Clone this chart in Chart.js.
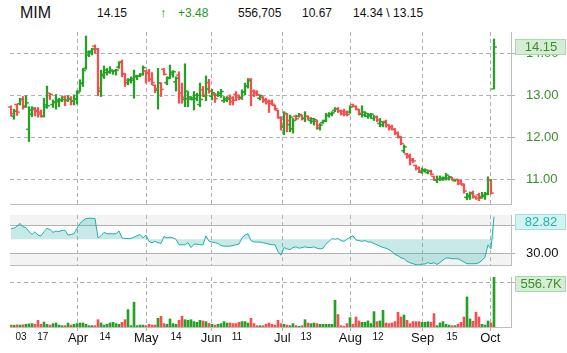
<!DOCTYPE html>
<html>
<head>
<meta charset="utf-8">
<script src="https://cdn.jsdelivr.net/npm/chart.js@4.4.1/dist/chart.umd.min.js"></script>
<style>
  html, body { margin: 0; padding: 0; background: #fff; }
  body { width: 567px; height: 353px; position: relative; overflow: hidden;
         font-family: 'Liberation Sans', Arial, sans-serif; color: #111; }
  .h { position: absolute; top: 6px; font-size: 12px; line-height: 14px; white-space: nowrap; }
  .up { color: #1c9a1c; }
  canvas { position: absolute; left: 0; }
</style>
</head>
<body>
<div class="h" style="left:20px;top:4px;font-size:16px;line-height:18px">MIM</div>
<div class="h" style="left:97px">14.15</div>
<div class="h up" style="left:160px;font-weight:bold;font-size:13px">↑</div>
<div class="h up" style="left:178px">+3.48</div>
<div class="h" style="left:238px">556,705</div>
<div class="h" style="left:302px">10.67</div>
<div class="h" style="left:353px">14.34 \ 13.15</div>

<canvas id="price" width="567" height="176" style="top:30px"></canvas>
<canvas id="rsi" width="567" height="54" style="top:213px"></canvas>
<canvas id="vol" width="567" height="78" style="top:275px"></canvas>

<script>
// daily bars, Mar -> Oct 2
const opens = [
  12.72,12.50,12.78,12.80,12.90,12.74,12.19,12.55,12.66,12.64,
  12.60,12.50,12.72,13.05,12.78,12.84,12.85,12.88,12.96,12.88,
  12.92,12.86,12.92,13.10,13.28,13.64,13.96,14.03,14.17,14.10,
  13.10,13.46,13.54,13.55,13.58,13.58,13.67,13.80,13.50,13.30,
  13.35,13.36,13.44,13.46,13.50,13.58,13.55,13.38,13.24,13.12,
  13.29,13.62,13.30,13.42,13.50,13.32,13.48,13.05,12.90,12.92,
  12.91,12.90,12.92,12.78,13.13,12.98,13.30,12.98,13.02,13.00,
  13.00,12.87,12.88,12.95,12.93,13.02,13.00,12.95,13.08,13.22,
  13.38,13.10,13.08,12.93,12.95,12.90,12.86,12.85,12.76,12.64,
  12.46,12.25,12.56,12.30,12.20,12.50,12.50,12.52,12.45,12.50,
  12.40,12.38,12.38,12.22,12.35,12.40,12.52,12.55,12.64,12.68,
  12.63,12.62,12.60,12.60,12.78,12.73,12.66,12.55,12.53,12.50,
  12.51,12.45,12.49,12.33,12.30,12.38,12.29,12.25,12.19,12.11,
  12.00,11.68,11.60,11.56,11.48,11.33,11.26,11.17,11.20,11.16,
  11.20,11.07,10.98,11.00,11.00,11.02,11.03,11.04,10.97,10.99,
  10.96,10.86,10.57,10.58,10.68,10.58,10.63,10.58,10.60,10.66,
  10.99,13.15];
const highs = [
  12.75,12.67,12.79,12.93,12.97,12.99,12.73,12.73,12.71,12.71,
  12.65,12.93,13.22,13.05,12.89,13.02,12.93,12.97,12.99,12.99,
  12.97,13.01,13.11,13.37,13.64,14.41,14.06,14.12,14.20,14.12,
  13.60,13.70,13.64,13.68,13.60,13.62,13.80,13.84,13.52,13.40,
  13.44,13.60,13.48,13.52,13.70,13.60,13.62,13.54,13.25,13.64,
  13.30,13.64,13.44,13.72,13.59,13.44,13.56,13.29,13.75,13.09,
  12.97,13.09,13.05,13.29,13.21,13.46,13.38,13.14,13.05,13.09,
  13.14,12.97,12.97,13.01,12.97,13.09,13.01,13.13,13.29,13.40,
  13.40,13.13,13.11,13.01,12.97,12.93,12.89,12.89,12.77,12.65,
  12.49,12.61,12.57,12.53,12.45,12.53,12.57,12.53,12.61,12.51,
  12.47,12.45,12.41,12.33,12.41,12.57,12.59,12.61,12.71,12.71,
  12.65,12.67,12.63,12.75,12.79,12.75,12.67,12.75,12.61,12.57,
  12.57,12.52,12.51,12.45,12.37,12.41,12.30,12.29,12.21,12.13,
  12.02,11.82,11.62,11.60,11.50,11.34,11.30,11.27,11.25,11.22,
  11.22,11.08,11.08,11.08,11.06,11.14,11.08,11.05,11.00,11.00,
  10.98,10.89,10.67,10.70,10.72,10.59,10.67,10.69,10.69,11.06,
  11.00,14.34];
const lows = [
  12.51,12.43,12.52,12.77,12.67,12.71,11.90,12.49,12.51,12.48,
  12.48,12.48,12.69,12.90,12.71,12.67,12.73,12.85,12.75,12.85,
  12.77,12.77,12.79,13.09,13.21,13.62,13.92,13.96,14.00,12.99,
  12.97,13.40,13.48,13.52,13.50,13.48,13.64,13.44,13.21,13.25,
  13.29,12.93,13.37,13.44,13.48,13.29,13.33,13.25,13.06,12.67,
  12.97,13.48,13.25,13.40,13.43,13.10,12.81,12.81,12.73,12.73,
  12.89,12.65,12.87,12.73,12.97,12.87,13.05,12.89,12.83,12.97,
  12.95,12.83,12.85,12.77,12.77,12.87,12.89,12.90,13.01,13.17,
  12.75,12.97,12.99,12.89,12.83,12.79,12.59,12.77,12.65,12.45,
  12.17,12.06,12.13,12.13,12.10,12.41,12.48,12.41,12.37,12.41,
  12.33,12.29,12.19,12.17,12.33,12.37,12.48,12.51,12.61,12.59,
  12.53,12.51,12.51,12.57,12.73,12.65,12.53,12.48,12.49,12.45,
  12.45,12.40,12.37,12.25,12.25,12.24,12.17,12.17,12.06,11.98,
  11.82,11.63,11.50,11.34,11.40,11.22,11.16,11.14,11.17,11.13,
  11.10,10.97,10.92,10.97,10.97,10.98,10.98,10.98,10.95,10.87,
  10.87,10.67,10.51,10.52,10.55,10.52,10.49,10.55,10.52,10.63,
  10.65,13.15];
const closes = [
  12.56,12.62,12.60,12.90,12.72,12.82,12.65,12.69,12.62,12.55,
  12.50,12.77,12.75,13.02,12.83,12.89,12.89,12.90,12.88,12.91,
  12.86,12.91,13.06,13.29,13.59,14.03,14.05,14.10,14.10,13.17,
  13.50,13.60,13.56,13.60,13.59,13.60,13.78,13.52,13.36,13.37,
  13.40,13.46,13.46,13.49,13.66,13.52,13.38,13.30,13.16,13.30,
  13.14,13.50,13.40,13.55,13.56,13.41,13.05,12.95,13.10,12.96,
  12.94,13.00,13.00,12.90,13.00,13.15,13.10,13.06,12.92,13.05,
  13.09,12.92,12.91,12.85,12.88,12.95,12.93,13.08,13.22,13.35,
  13.00,13.04,13.02,12.99,12.87,12.83,12.80,12.79,12.68,12.48,
  12.25,12.57,12.40,12.48,12.40,12.44,12.54,12.45,12.50,12.45,
  12.44,12.42,12.28,12.29,12.38,12.52,12.56,12.58,12.67,12.62,
  12.56,12.55,12.54,12.72,12.74,12.67,12.57,12.60,12.57,12.54,
  12.55,12.49,12.41,12.37,12.35,12.30,12.22,12.19,12.10,12.02,
  11.85,11.77,11.53,11.45,11.44,11.26,11.20,11.23,11.22,11.19,
  11.12,10.99,11.00,11.03,11.04,11.10,11.06,11.00,11.00,10.90,
  10.89,10.72,10.62,10.66,10.60,10.55,10.55,10.62,10.64,10.98,
  10.67,14.15];
// volume in thousands
const volumesK = [
  22,20,24,22,25,30,35,38,30,75,
  30,56,30,22,38,45,22,15,15,45,
  22,30,38,45,45,30,15,15,15,82,
  45,22,30,45,52,38,30,52,82,195,
  15,278,15,22,22,15,30,22,22,97,
  120,38,30,90,38,30,75,120,82,75,
  82,60,52,75,68,60,40,30,22,30,
  38,60,45,45,38,38,52,60,60,45,
  97,38,15,15,15,30,45,30,22,75,
  38,30,22,15,38,15,8,15,82,45,
  38,45,38,30,30,30,30,30,300,140,
  15,8,38,105,30,112,68,52,52,68,
  38,172,60,68,187,45,38,45,60,165,
  112,135,75,38,60,60,60,52,52,60,
  52,150,15,45,60,30,22,15,15,30,
  52,112,337,90,64,165,112,30,22,68,
  45,556.705];
const rsi = [
  66,66,69,73,68,67,61,57,61,56,
  55,61,66,64,60,62,61,63,63,56,
  57,58,66,73,77,80,80.5,80.5,80,52,
  55,60,58,58,58,58,62,52,51,51,
  51,53,55,57,52,56,47,45,47,45,
  44,54,52,53,52,50,42,42,42,45,
  38,43,43,42,42,55,47,46,45,44,
  41,40,40,40,41,42,43,52,56,58,
  48,46,46,46,45,44,43,42,42,32,
  27,38,36,35,38,39,37,38,39,38,
  38,39,37,36,37,43,47,51,50,51,
  48,47,50,53,55,49,48,47,48,46,
  46,44,42,40,38,37,35,32,28,26,
  23,22,18,16,14.6,13.2,12.8,14.1,14.1,16.1,
  14.6,16.1,13.5,16.1,20,22.8,22.8,21.8,21.8,21.8,
  19.4,17,14.6,14.6,14.6,14.6,16.1,19.4,24,42,
  36,82.82];

const xTickPos  = [3.33, 10.57, 22.33, 31.33, 45.1, 55, 66.77, 75.33, 90.43, 98.33, 113.1, 122.33, 137.23, 147, 159.77];
const xTickText = ['03','17','Apr','14','May','14','Jun','11','Jul','13','Aug','12','Sep','15','Oct'];
const priceTicks = [11, 12, 13, 14];
const rsiTicks = [30, 50, 70];
const volTicks = [500000];

const X_MIN = -1/3, X_MAX = 166 + 2/3;
const UP = '#25a225', DOWN = '#f5504f';
const GRID = '#b2b2b2', AXIS = '#bdbdbd';
const FONT = "'Liberation Sans', Arial, sans-serif";
const last = closes.length - 1;

Chart.defaults.font.family = FONT;
const barColors = closes.map((c, i) => c >= opens[i] ? UP : DOWN);
const isMonth = v => { const k = xTickPos.indexOf(v); return k >= 0 && xTickText[k].length === 3; };

function xAxis(withLabels) {
  const pos = withLabels ? xTickPos : xTickPos.filter(isMonth);
  const vis = c => c.tick && isMonth(c.tick.value) ? GRID : 'rgba(0,0,0,0)';
  return {
    type: 'linear', min: X_MIN, max: X_MAX, offset: false,
    afterBuildTicks: s => { s.ticks = pos.map(v => ({ value: v })); },
    afterFit: s => { s.height = withLabels ? 26 : 0; s.paddingLeft = 0; s.paddingRight = 0; },
    grid: { offset: false, color: vis, drawTicks: withLabels, tickLength: 4, tickColor: vis, tickBorderDash: [4, 3] },
    border: { display: true, color: AXIS, dash: [4, 3] },
    ticks: {
      display: withLabels, autoSkip: false, maxRotation: 0, padding: 0, color: '#111',
      font: c => ({ size: c.tick && isMonth(c.tick.value) ? 13 : 10 }),
      callback: v => xTickText[xTickPos.indexOf(v)] || ''
    }
  };
}

function yAxis(min, max, ticks, labelFn, color, dashFn) {
  return {
    position: 'right', min, max,
    afterBuildTicks: s => { s.ticks = ticks.map(v => ({ value: v })); },
    afterFit: s => { s.width = 56; s.paddingTop = 0; s.paddingBottom = 0; },
    grid: { color: GRID, tickLength: 4, tickColor: GRID },
    border: { color: AXIS, dash: dashFn },
    ticks: { padding: 11, color, font: { size: 13 }, callback: labelFn }
  };
}

// open / close ticks on each OHLC bar
const ohlcTicks = {
  id: 'ohlcTicks',
  afterDatasetsDraw(chart) {
    const { ctx, scales: { x, y } } = chart;
    ctx.save();
    opens.forEach((o, i) => {
      const px = Math.round(x.getPixelForValue(i));
      ctx.fillStyle = barColors[i];
      ctx.fillRect(px - 2.8, y.getPixelForValue(o) - 0.75, 2, 1.5);
      ctx.fillRect(px + 0.8, y.getPixelForValue(closes[i]) - 0.75, 2, 1.5);
    });
    ctx.restore();
  }
};

// last value box on the right axis
const badge = {
  id: 'badge',
  afterDraw(chart, args, o) {
    const { ctx, chartArea: a } = chart;
    const top = Math.max(Math.round(chart.scales.y.getPixelForValue(o.value)) - 8, a.top - 1);
    ctx.save();
    ctx.fillStyle = o.fill;
    ctx.fillRect(a.right + 4, top, 51, 16);
    ctx.strokeStyle = o.stroke; ctx.lineWidth = 1;
    ctx.strokeRect(a.right + 4.5, top + 0.5, 50, 15);
    ctx.fillStyle = o.color;
    ctx.font = '13px ' + FONT;
    ctx.textAlign = 'center'; ctx.textBaseline = 'middle';
    ctx.fillText(o.text, a.right + 30, top + 8.5);
    ctx.restore();
  }
};

// shaded zones above 70 / below 30
const bands = {
  id: 'bands',
  beforeDraw(chart) {
    const { ctx, chartArea: a, scales: { y } } = chart;
    const y70 = y.getPixelForValue(70), y30 = y.getPixelForValue(30);
    ctx.save();
    ctx.fillStyle = '#f2f3f2';
    ctx.fillRect(a.left, a.top, a.width, y70 - a.top);
    ctx.fillRect(a.left, y30, a.width, a.bottom - y30);
    ctx.restore();
  }
};

const common = {
  responsive: false, animation: false, events: [],
  layout: { padding: { left: 10, right: 0, top: 2, bottom: 2 } }
};

new Chart(document.getElementById('price'), {
  type: 'bar',
  data: { datasets: [{
    data: highs.map((h, i) => ({ x: i, y: [lows[i], h] })),
    backgroundColor: barColors, barThickness: 1.6, borderWidth: 0
  }] },
  options: { ...common,
    plugins: { legend: { display: false }, tooltip: { enabled: false },
      badge: { value: closes[last], text: closes[last].toFixed(2), fill: '#d4edd4', stroke: '#a9d8a9', color: '#3b8f2a' } },
    scales: {
      x: xAxis(false),
      y: yAxis(10.412, 14.507, priceTicks, v => v.toFixed(2), '#3b8f2a', [4, 3])
    }
  },
  plugins: [ohlcTicks, badge]
});

new Chart(document.getElementById('rsi'), {
  type: 'line',
  data: { datasets: [{
    data: rsi.map((v, i) => ({ x: i, y: v })),
    borderColor: '#1fb2ac', borderWidth: 1, pointRadius: 0, tension: 0,
    fill: { value: 50 }, backgroundColor: 'rgba(31,170,165,0.25)'
  }] },
  options: { ...common,
    plugins: { legend: { display: false }, tooltip: { enabled: false },
      badge: { value: rsi[last], text: rsi[last].toFixed(2), fill: '#d3f2f2', stroke: '#a3dfdf', color: '#1fb2b2' } },
    scales: {
      x: xAxis(false),
      y: yAxis(12.7, 85.2, rsiTicks, v => v === 30 ? '30.00' : '', '#111',
               c => c.tick && c.tick.value === 50 ? [4, 3] : [])
    }
  },
  plugins: [bands, badge]
});

new Chart(document.getElementById('vol'), {
  type: 'bar',
  data: { datasets: [{
    data: volumesK.map((v, i) => ({ x: i, y: v * 1000 })),
    backgroundColor: barColors, barThickness: 2, borderWidth: 0
  }] },
  options: { ...common,
    layout: { padding: { left: 10, right: 0, top: 2, bottom: 0 } },
    plugins: { legend: { display: false }, tooltip: { enabled: false },
      badge: { value: volumesK[last] * 1000, text: volumesK[last].toFixed(1) + 'K', fill: '#d4edd4', stroke: '#a9d8a9', color: '#3b8f2a' } },
    scales: {
      x: xAxis(true),
      y: yAxis(0, 560000, volTicks, () => '', '#111', [4, 3])
    }
  },
  plugins: [badge]
});
</script>
</body>
</html>
